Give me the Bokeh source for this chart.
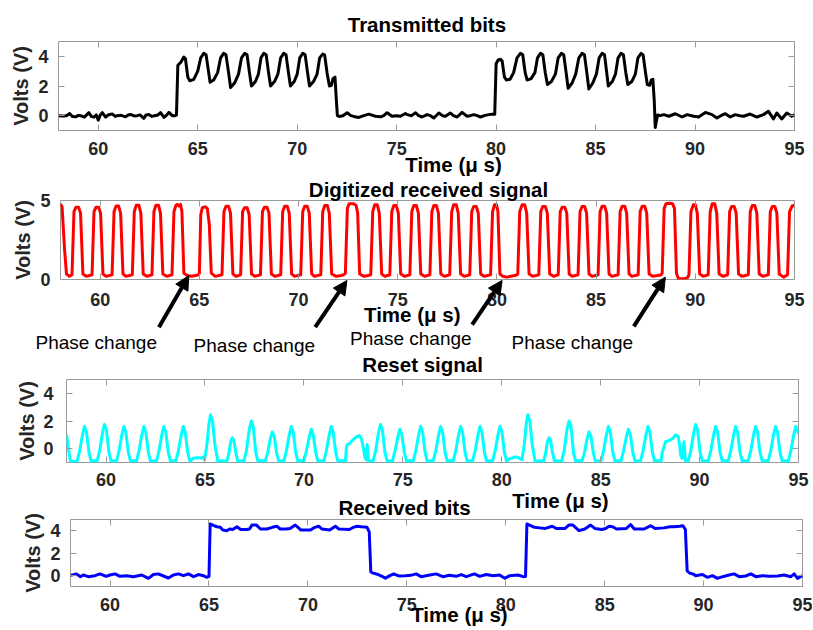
from bokeh.plotting import figure
from bokeh.models import Range1d, LinearAxis, FixedTicker, Label, Arrow, NormalHead, GridBox
from bokeh.embed import file_html
from bokeh.resources import INLINE

FONT = "Liberation Sans"
AXC = "#9a9a9a"
TICKC = "#262626"

x_ticks = [60, 65, 70, 75, 80, 85, 90, 95]

# ---------------- Panel 1: Transmitted bits ----------------
tx_low1_t = [58.0, 58.2, 58.4, 58.56, 58.7, 58.86, 59.0, 59.11, 59.3, 59.53, 59.65, 59.78, 59.9, 60.0, 60.1, 60.2, 60.37, 60.5, 60.7, 60.85,
             60.95, 61.15, 61.37, 61.5, 61.62, 61.8, 61.96, 62.1, 62.29, 62.4, 62.54, 62.7, 62.83, 63.0, 63.13, 63.3, 63.45, 63.55, 63.72, 63.88]
tx_low1_v = [0.0, -0.02, 0.0, 0.15, -0.05, -0.08, 0.02, 0.0, -0.1, 0.2, -0.05, -0.1, 0.05, -0.3, 0.05, 0.2, -0.1, 0.05, 0.12, -0.05,
             0.0, 0.02, -0.08, 0.05, 0.08, -0.02, 0.0, 0.05, -0.18, 0.05, 0.08, -0.05, 0.0, 0.05, 0.2, -0.12, 0.05, 0.22, 0.0, 0.0]
tx_high1_t = [63.93, 64.0, 64.15, 64.3, 64.38, 64.5, 64.6, 64.8, 65.0, 65.15, 65.3, 65.42, 65.55, 65.62, 65.8, 66.0, 66.15, 66.3, 66.42, 66.55,
              66.65, 66.85, 67.05, 67.2, 67.36, 67.48, 67.6, 67.7, 67.9, 68.05, 68.18, 68.32, 68.44, 68.56, 68.66, 68.86, 69.03, 69.17, 69.32, 69.44,
              69.56, 69.66, 69.85, 70.0, 70.13, 70.28, 70.4, 70.52, 70.62, 70.82, 71.0, 71.13, 71.28, 71.38, 71.5, 71.62, 71.72, 71.8, 71.9, 71.97,
              72.02, 72.1]
tx_high1_v = [0.05, 3.4, 3.6, 3.95, 3.85, 2.6, 2.35, 2.45, 3.0, 3.9, 4.2, 4.1, 2.9, 2.25, 2.4, 2.9, 3.9, 4.2, 4.1, 2.9,
              1.9, 2.2, 2.8, 3.9, 4.2, 4.1, 2.9, 2.0, 2.3, 2.8, 3.9, 4.2, 4.1, 2.9, 2.0, 2.3, 2.8, 3.9, 4.2, 4.1,
              2.9, 2.0, 2.3, 2.8, 3.9, 4.2, 4.1, 2.9, 2.0, 2.3, 2.8, 3.9, 4.15, 4.1, 2.9, 2.0, 2.05, 2.5, 2.6, 1.0,
              0.0, -0.05]
tx_low2_t = [72.3, 72.51, 72.7, 72.84, 73.1, 73.35, 73.6, 73.93, 74.19, 74.35, 74.52, 74.77, 75.0, 75.19, 75.44, 75.53, 75.75, 75.95, 76.1, 76.28,
             76.53, 76.7, 76.87, 77.12, 77.3, 77.45, 77.7, 77.85, 78.04, 78.29, 78.54, 78.7, 78.88, 79.05, 79.21, 79.45, 79.63, 79.88]
tx_low2_v = [0.0, 0.2, 0.0, -0.05, -0.12, 0.0, 0.1, -0.04, -0.08, 0.0, 0.2, -0.04, 0.0, -0.04, 0.15, 0.07, 0.0, 0.2, 0.0, -0.09,
             0.07, 0.0, -0.16, 0.18, 0.0, -0.04, 0.18, 0.0, -0.09, 0.22, -0.04, 0.0, 0.07, 0.0, -0.09, 0.02, 0.07, 0.11]
tx_high2_t = [79.93, 80.0, 80.1, 80.22, 80.3, 80.42, 80.52, 80.7, 80.88, 81.05, 81.22, 81.34, 81.46, 81.56, 81.76, 81.95, 82.08, 82.23, 82.35, 82.47,
              82.58, 82.78, 82.98, 83.12, 83.28, 83.4, 83.52, 83.62, 83.82, 84.0, 84.16, 84.32, 84.44, 84.56, 84.66, 84.86, 85.04, 85.18, 85.33, 85.45,
              85.56, 85.64, 85.84, 86.0, 86.13, 86.28, 86.4, 86.52, 86.62, 86.82, 87.0, 87.13, 87.29, 87.39, 87.5, 87.6, 87.72, 87.8, 87.88, 87.95,
              88.0, 88.05, 88.12]
tx_high2_v = [0.1, 3.5, 3.75, 3.8, 3.7, 2.6, 2.4, 2.45, 2.9, 3.9, 4.2, 4.1, 2.9, 2.4, 2.5, 2.9, 3.9, 4.2, 4.1, 2.9,
              2.1, 2.3, 2.8, 3.9, 4.2, 4.1, 2.9, 1.85, 2.2, 2.8, 3.9, 4.2, 4.1, 2.9, 1.8, 2.2, 2.8, 3.9, 4.2, 4.1,
              2.9, 2.0, 2.3, 2.8, 3.9, 4.2, 4.1, 2.9, 2.1, 2.3, 2.8, 3.9, 4.2, 4.1, 3.0, 2.1, 2.05, 2.4, 2.45, 1.0,
              -0.8, -0.4, 0.05]
tx_low3_t = [88.25, 88.43, 88.68, 89.01, 89.35, 89.6, 89.93, 90.18, 90.52, 90.85, 91.1, 91.3, 91.52, 91.77, 92.02, 92.25, 92.44, 92.77, 93.11, 93.44,
             93.69, 93.94, 94.11, 94.36, 94.61, 94.86, 95.0]
tx_low3_v = [0.0, 0.07, -0.04, 0.13, -0.09, 0.07, -0.04, -0.09, 0.22, 0.07, -0.16, 0.0, 0.13, -0.09, 0.07, 0.0, -0.04, 0.11, -0.09, 0.07,
             0.29, -0.22, 0.18, -0.22, 0.18, -0.04, 0.05]

# ---------------- Panel 2: Digitized received signal ----------------
dig_t = [
    [58.0, 58.08, 58.2, 58.3, 58.45],
    [58.58, 58.68, 58.78, 58.91, 59.01, 59.13, 59.3],
    [59.59, 59.69, 59.79, 59.92, 60.02, 60.14, 60.3],
    [60.6, 60.7, 60.8, 60.93, 61.03, 61.15, 61.3],
    [61.62, 61.72, 61.82, 61.95, 62.05, 62.17, 62.35],
    [62.61, 62.71, 62.81, 62.94, 63.04, 63.16, 63.35],
    [63.62, 63.72, 63.82, 63.9, 63.97, 64.05, 64.12, 64.22],
    [64.4, 64.6, 64.8, 64.95],
    [65.0, 65.07, 65.15, 65.3, 65.4, 65.5, 65.6, 65.8],
    [66.14, 66.24, 66.34, 66.47, 66.57, 66.69, 66.85],
    [67.08, 67.18, 67.28, 67.41, 67.51, 67.63, 67.8],
    [68.08, 68.18, 68.28, 68.41, 68.51, 68.63, 68.8],
    [69.1, 69.2, 69.3, 69.43, 69.53, 69.65, 69.8],
    [70.11, 70.21, 70.31, 70.44, 70.54, 70.66, 70.8],
    [71.12, 71.22, 71.32, 71.45, 71.55, 71.67, 71.9, 72.15, 72.28],
    [72.36, 72.46, 72.55, 72.75, 72.9, 72.98, 73.08, 73.3, 73.5],
    [73.64, 73.74, 73.84, 73.97, 74.07, 74.19, 74.35],
    [74.6, 74.7, 74.8, 74.93, 75.03, 75.15, 75.35],
    [75.61, 75.71, 75.81, 75.94, 76.04, 76.16, 76.35],
    [76.62, 76.72, 76.82, 76.95, 77.05, 77.17, 77.35],
    [77.62, 77.72, 77.82, 77.95, 78.05, 78.17, 78.35],
    [78.63, 78.73, 78.83, 78.96, 79.06, 79.18, 79.35],
    [79.68, 79.78, 79.88, 79.98, 80.05, 80.15],
    [80.3, 80.5, 80.7, 80.9, 81.0],
    [81.05, 81.15, 81.27, 81.4, 81.5, 81.62, 81.8],
    [82.11, 82.21, 82.31, 82.44, 82.54, 82.66, 82.85],
    [83.09, 83.19, 83.29, 83.42, 83.52, 83.64, 83.8],
    [84.09, 84.19, 84.29, 84.42, 84.52, 84.64, 84.8],
    [85.1, 85.2, 85.3, 85.43, 85.53, 85.65, 85.8],
    [86.11, 86.21, 86.31, 86.44, 86.54, 86.66, 86.8],
    [87.12, 87.22, 87.32, 87.45, 87.55, 87.67, 87.85, 88.1, 88.28],
    [88.33, 88.43, 88.52, 88.7, 88.85, 88.95, 89.05, 89.15, 89.4, 89.6],
    [89.68, 89.78, 89.9, 90.0, 90.1, 90.22, 90.4],
    [90.65, 90.75, 90.85, 90.98, 91.08, 91.2, 91.4],
    [91.63, 91.73, 91.83, 91.96, 92.06, 92.18, 92.35],
    [92.67, 92.77, 92.87, 93.0, 93.1, 93.22, 93.4],
    [93.68, 93.78, 93.88, 94.01, 94.11, 94.23, 94.45],
    [94.65, 94.75, 94.88, 95.0],
]
dig_v = [
    [4.78, 4.6, 2.0, 0.35, 0.2],
    [0.3, 4.3, 4.58, 4.58, 4.2, 0.35, 0.2],
    [0.3, 4.3, 4.58, 4.58, 4.2, 0.35, 0.2],
    [0.3, 4.3, 4.65, 4.65, 4.2, 0.35, 0.2],
    [0.3, 4.3, 4.7, 4.7, 4.2, 0.35, 0.2],
    [0.3, 4.3, 4.7, 4.7, 4.2, 0.35, 0.2],
    [0.3, 4.3, 4.7, 4.75, 4.65, 4.75, 4.3, 0.4],
    [0.25, 0.2, 0.25, 0.3],
    [0.4, 4.1, 4.55, 4.6, 4.5, 3.5, 0.4, 0.2],
    [0.3, 4.3, 4.64, 4.64, 4.2, 0.35, 0.2],
    [0.3, 4.3, 4.54, 4.54, 4.1, 0.35, 0.2],
    [0.3, 4.3, 4.58, 4.58, 4.2, 0.35, 0.2],
    [0.3, 4.3, 4.64, 4.64, 4.2, 0.35, 0.2],
    [0.3, 4.3, 4.64, 4.64, 4.2, 0.35, 0.2],
    [0.3, 4.3, 4.68, 4.68, 4.2, 0.35, 0.2, 0.25, 0.3],
    [0.4, 4.5, 4.8, 4.8, 4.7, 4.2, 0.35, 0.2, 0.25],
    [0.3, 4.3, 4.73, 4.73, 4.2, 0.35, 0.2],
    [0.3, 4.3, 4.68, 4.68, 4.2, 0.35, 0.2],
    [0.3, 4.3, 4.68, 4.68, 4.2, 0.35, 0.2],
    [0.3, 4.3, 4.68, 4.68, 4.2, 0.35, 0.2],
    [0.3, 4.3, 4.73, 4.73, 4.2, 0.35, 0.2],
    [0.3, 4.3, 4.62, 4.62, 4.2, 0.35, 0.2],
    [0.3, 4.3, 4.73, 4.73, 4.3, 0.35],
    [0.2, 0.15, 0.2, 0.25, 0.3],
    [0.35, 4.3, 4.73, 4.73, 4.2, 0.35, 0.2],
    [0.3, 4.3, 4.62, 4.62, 4.2, 0.35, 0.2],
    [0.3, 4.3, 4.58, 4.58, 4.2, 0.35, 0.2],
    [0.3, 4.3, 4.62, 4.62, 4.2, 0.35, 0.2],
    [0.3, 4.3, 4.64, 4.64, 4.2, 0.35, 0.2],
    [0.3, 4.3, 4.64, 4.64, 4.2, 0.35, 0.2],
    [0.3, 4.3, 4.64, 4.64, 4.2, 0.35, 0.2, 0.25, 0.3],
    [0.4, 4.5, 4.8, 4.82, 4.8, 4.5, 0.4, 0.05, 0.05, 0.1],
    [0.3, 4.3, 4.73, 4.73, 4.2, 0.35, 0.2],
    [0.3, 4.3, 4.79, 4.79, 4.2, 0.35, 0.2],
    [0.3, 4.3, 4.62, 4.62, 4.2, 0.35, 0.2],
    [0.3, 4.3, 4.68, 4.68, 4.2, 0.35, 0.2],
    [0.3, 4.3, 4.62, 4.62, 4.2, 0.35, 0.15],
    [0.3, 4.3, 4.65, 4.7],
]

# phase-change annotations, in the data units of panel 2 (time, volts)
phase_text_x = [59.80, 67.77, 75.66, 83.80]
phase_text_y = [-3.99, -4.18, -3.73, -3.96]
arrow_x0 = [62.96, 70.84, 78.75, 86.90]
arrow_y0 = [-3.02, -3.02, -2.85, -2.97]
arrow_x1 = [64.47, 72.44, 80.26, 88.49]
arrow_y1 = [0.25, -0.06, -0.06, 0.15]

# ---------------- Panel 3: Reset signal ----------------
rst_t = [
    [58.0, 58.1, 58.2, 58.35],
    [58.53, 58.66, 58.81, 58.91, 59.01, 59.14, 59.25, 59.4],
    [59.54, 59.67, 59.82, 59.92, 60.02, 60.15, 60.26, 60.4],
    [60.52, 60.65, 60.8, 60.9, 61.0, 61.13, 61.24, 61.4],
    [61.53, 61.66, 61.81, 61.91, 62.01, 62.14, 62.25, 62.4],
    [62.54, 62.67, 62.82, 62.92, 63.02, 63.15, 63.26, 63.4],
    [63.52, 63.65, 63.8, 63.9, 64.0, 64.13, 64.24],
    [64.4, 64.5, 64.65, 64.8, 64.9],
    [64.98, 65.1, 65.2, 65.28, 65.38, 65.5, 65.65, 65.85],
    [66.1, 66.2, 66.3, 66.38, 66.46, 66.56, 66.66, 66.85],
    [66.96, 67.09, 67.24, 67.34, 67.44, 67.57, 67.68, 67.85],
    [68.04, 68.17, 68.3, 68.4, 68.5, 68.62, 68.73, 68.9],
    [68.98, 69.11, 69.26, 69.36, 69.46, 69.59, 69.7, 69.85],
    [69.99, 70.12, 70.27, 70.37, 70.47, 70.6, 70.71, 70.85],
    [71.0, 71.13, 71.28, 71.38, 71.48, 71.61, 71.72, 71.9],
    [72.1, 72.15, 72.2, 72.3, 72.45, 72.65, 72.8, 72.9, 73.0, 73.08, 73.14, 73.2, 73.26, 73.4],
    [73.49, 73.62, 73.77, 73.87, 73.97, 74.1, 74.21, 74.35],
    [74.47, 74.6, 74.75, 74.85, 74.95, 75.08, 75.19, 75.35],
    [75.52, 75.65, 75.8, 75.9, 76.0, 76.13, 76.24, 76.4],
    [76.53, 76.66, 76.81, 76.91, 77.01, 77.14, 77.25, 77.4],
    [77.54, 77.67, 77.82, 77.92, 78.02, 78.15, 78.26, 78.4],
    [78.52, 78.65, 78.8, 78.9, 79.0, 79.13, 79.24, 79.4],
    [79.53, 79.66, 79.81, 79.91, 80.01, 80.14, 80.25],
    [80.4, 80.5, 80.65, 80.8, 80.95],
    [81.02, 81.14, 81.24, 81.32, 81.42, 81.54, 81.69, 81.9],
    [82.11, 82.21, 82.31, 82.39, 82.47, 82.57, 82.67, 82.85],
    [83.02, 83.15, 83.3, 83.4, 83.5, 83.63, 83.74, 83.9],
    [84.05, 84.18, 84.31, 84.41, 84.51, 84.63, 84.74, 84.9],
    [85.01, 85.14, 85.29, 85.39, 85.49, 85.62, 85.73, 85.9],
    [86.02, 86.15, 86.3, 86.4, 86.5, 86.63, 86.74, 86.9],
    [87.01, 87.14, 87.29, 87.39, 87.49, 87.62, 87.73, 87.9],
    [88.05, 88.12, 88.2, 88.28, 88.4, 88.54, 88.68, 88.79, 88.92, 89.0, 89.04, 89.12, 89.21, 89.29, 89.4],
    [89.42, 89.55, 89.7, 89.8, 89.9, 90.03, 90.14, 90.3],
    [90.43, 90.56, 90.71, 90.81, 90.91, 91.04, 91.15, 91.3],
    [91.44, 91.57, 91.72, 91.82, 91.92, 92.05, 92.16, 92.3],
    [92.45, 92.58, 92.73, 92.83, 92.93, 93.06, 93.17, 93.3],
    [93.46, 93.59, 93.74, 93.84, 93.94, 94.07, 94.18, 94.3],
    [94.48, 94.61, 94.76, 94.86, 95.0],
]
rst_v = [
    [1.0, 0.0, -0.9, -0.92],
    [-0.92, -0.2, 1.0, 1.6, 1.2, -0.3, -0.92, -0.86],
    [-0.92, -0.2, 1.15, 1.75, 1.35, -0.3, -0.92, -0.88],
    [-0.92, -0.2, 1.0, 1.6, 1.2, -0.3, -0.92, -0.86],
    [-0.92, -0.2, 1.0, 1.6, 1.2, -0.3, -0.92, -0.88],
    [-0.92, -0.2, 1.0, 1.6, 1.2, -0.3, -0.92, -0.86],
    [-0.92, -0.2, 1.0, 1.6, 1.2, -0.3, -0.92],
    [-0.7, -0.68, -0.65, -0.7, -0.6],
    [-0.8, 0.3, 1.8, 2.45, 2.0, 0.3, -0.92, -0.88],
    [-0.92, -0.4, 0.5, 0.78, 0.6, -0.3, -0.92, -0.88],
    [-0.92, -0.2, 1.4, 2.0, 1.6, -0.3, -0.92, -0.86],
    [-0.92, -0.3, 0.7, 1.2, 0.9, -0.3, -0.92, -0.88],
    [-0.92, -0.2, 1.0, 1.6, 1.2, -0.3, -0.92, -0.86],
    [-0.92, -0.2, 0.85, 1.4, 1.0, -0.3, -0.92, -0.88],
    [-0.92, -0.2, 1.0, 1.6, 1.2, -0.3, -0.92, -0.86],
    [-0.9, 0.1, 0.3, 0.35, 0.6, 0.85, 0.95, 0.75, 0.1, -0.6, -0.8, 0.3, -0.9, -0.9],
    [-0.92, -0.2, 1.15, 1.75, 1.35, -0.3, -0.92, -0.88],
    [-0.92, -0.2, 0.85, 1.4, 1.0, -0.3, -0.92, -0.86],
    [-0.92, -0.2, 1.0, 1.6, 1.2, -0.3, -0.92, -0.88],
    [-0.92, -0.2, 1.0, 1.6, 1.2, -0.3, -0.92, -0.86],
    [-0.92, -0.2, 1.0, 1.6, 1.2, -0.3, -0.92, -0.88],
    [-0.92, -0.2, 1.0, 1.6, 1.2, -0.3, -0.92, -0.86],
    [-0.92, -0.2, 1.0, 1.6, 1.2, -0.3, -0.92],
    [-0.72, -0.7, -0.6, -0.62, -0.75],
    [-0.8, 0.3, 1.8, 2.45, 2.0, 0.3, -0.92, -0.88],
    [-0.92, -0.4, 0.5, 0.78, 0.6, -0.3, -0.92, -0.88],
    [-0.92, -0.2, 1.4, 2.0, 1.6, -0.3, -0.92, -0.86],
    [-0.92, -0.3, 0.7, 1.2, 0.9, -0.3, -0.92, -0.88],
    [-0.92, -0.2, 1.0, 1.6, 1.2, -0.3, -0.92, -0.86],
    [-0.92, -0.2, 0.85, 1.4, 1.0, -0.3, -0.92, -0.88],
    [-0.92, -0.2, 1.0, 1.6, 1.2, -0.3, -0.92, -0.86],
    [-0.92, -0.2, 0.1, 0.5, 0.55, 0.65, 0.8, 1.0, 0.9, 0.2, -0.45, -0.7, 0.5, -0.92, -0.9],
    [-0.92, -0.2, 1.15, 1.75, 1.35, -0.3, -0.92, -0.88],
    [-0.92, -0.2, 1.0, 1.6, 1.2, -0.3, -0.92, -0.86],
    [-0.92, -0.2, 1.0, 1.6, 1.2, -0.3, -0.92, -0.88],
    [-0.92, -0.2, 1.0, 1.6, 1.2, -0.3, -0.92, -0.86],
    [-0.92, -0.2, 1.0, 1.6, 1.2, -0.3, -0.92, -0.88],
    [-0.92, -0.2, 1.0, 1.6, 1.1],
]

# ---------------- Panel 4: Received bits ----------------
rx_low1_t = [58.0, 58.3, 58.5, 58.65, 58.9, 59.24, 59.49, 59.8, 60.0, 60.25, 60.5, 60.84, 61.18, 61.6, 61.94, 62.19, 62.44, 62.7, 62.95, 63.2,
             63.46, 63.71, 63.96, 64.22, 64.47, 64.72, 64.89, 65.0]
rx_low1_v = [0.0, 0.13, -0.12, 0.03, -0.12, -0.03, 0.13, -0.09, 0.03, 0.13, -0.09, -0.03, -0.12, 0.03, -0.27, 0.07, 0.13, -0.06, -0.24, 0.03,
             0.13, -0.03, 0.13, -0.12, 0.07, -0.03, -0.18, -0.1]
rx_high1_t = [65.06, 65.25, 65.4, 65.57, 65.7, 65.9, 66.05, 66.2, 66.41, 66.6, 66.9, 67.05, 67.17, 67.4, 67.6, 67.93, 68.2, 68.43, 68.6, 68.9,
              69.1, 69.36, 69.5, 69.65, 70.12, 70.35, 70.54, 70.7, 71.1, 71.39, 71.55, 72.1, 72.3, 72.48, 72.7, 72.99, 73.1, 73.18, 73.3]
rx_high1_v = [4.6, 4.45, 4.35, 4.3, 4.05, 4.0, 4.15, 4.1, 4.35, 4.1, 4.1, 4.15, 4.5, 4.5, 4.15, 4.15, 4.3, 4.4, 4.15, 4.15,
              4.2, 4.5, 4.3, 4.05, 4.05, 4.3, 4.4, 4.15, 4.05, 4.4, 4.15, 4.1, 4.3, 4.4, 4.35, 4.3, 3.9, 0.3, 0.2]
rx_low2_t = [73.5, 73.75, 73.92, 74.17, 74.34, 74.59, 74.93, 75.2, 75.47, 75.72, 76.1, 76.48, 76.82, 77.15, 77.49, 77.75, 78.0, 78.42, 78.68, 79.02,
             79.36, 79.69, 79.95, 80.2, 80.62, 80.88, 81.0]
rx_low2_v = [0.1, -0.1, -0.25, 0.0, 0.12, -0.05, -0.03, 0.0, 0.13, -0.12, 0.0, 0.13, -0.12, 0.0, -0.09, 0.07, -0.12, 0.13, -0.09, 0.07,
             -0.03, 0.03, -0.27, -0.03, 0.03, -0.12, -0.1]
rx_high2_t = [81.07, 81.2, 81.45, 81.7, 82.0, 82.35, 82.55, 83.0, 83.19, 83.4, 83.7, 84.0, 84.29, 84.5, 84.85, 85.05, 85.22, 85.4, 85.6, 86.1,
              86.31, 86.5, 87.0, 87.33, 87.55, 88.0, 88.3, 88.51, 88.8, 88.95, 89.08, 89.17, 89.3]
rx_high2_v = [4.6, 4.5, 4.3, 4.25, 4.2, 4.4, 4.2, 4.2, 4.5, 4.5, 4.0, 4.15, 4.5, 4.2, 4.1, 4.2, 4.4, 4.35, 4.15, 4.2,
              4.55, 4.15, 4.15, 4.45, 4.2, 4.25, 4.35, 4.35, 4.4, 4.45, 4.1, 0.4, 0.2]
rx_low3_t = [89.5, 89.6, 89.94, 90.2, 90.45, 90.7, 90.96, 91.29, 91.54, 91.8, 92.13, 92.39, 92.64, 92.98, 93.31, 93.74, 94.07, 94.41, 94.58, 94.75, 95.0]
rx_low3_v = [0.1, -0.03, 0.07, -0.18, -0.03, -0.27, -0.12, 0.03, 0.13, -0.12, -0.06, 0.13, -0.12, -0.03, -0.09, -0.06, 0.03, -0.12, 0.13, -0.27, -0.03]


def flat(parts):
    out = []
    for part in parts:
        out.extend(part)
    return out


# ---------------- layout geometry (pixels) ----------------
W = 812
H1, H2, H3, H4 = 172, 181, 152, 123
TOTAL_H = H1 + H2 + H3 + H4
P2_LEFT, P2_RIGHT, P2_TOP, P2_BOTTOM = 60, 18, 28, 74


def style_axis(ax, ticks, labels, standoff):
    ax.ticker = FixedTicker(ticks=ticks)
    ax.axis_line_color = None
    ax.major_tick_line_color = AXC
    ax.major_tick_in = 6
    ax.major_tick_out = 0
    ax.minor_tick_line_color = None
    ax.major_label_text_font = FONT
    ax.major_label_text_font_style = "bold"
    if labels:
        ax.major_label_text_color = TICKC
        ax.major_label_text_font_size = "18px"
        ax.major_label_standoff = standoff
    else:
        ax.major_label_text_color = None
        ax.major_label_text_font_size = "1px"
        ax.major_label_standoff = 0


def panel(height, top, bottom, left, right, yr, yticks, ystand, ylab_stand, xstand):
    p = figure(width=W, height=height, x_range=Range1d(58, 95), y_range=Range1d(*yr),
               output_backend="svg", toolbar_location=None, frame_align=False,
               min_border_top=top, min_border_bottom=bottom,
               min_border_left=left, min_border_right=right)
    p.grid.visible = False
    p.outline_line_color = AXC
    p.outline_line_width = 1
    p.background_fill_color = "white"
    p.border_fill_color = "white"
    style_axis(p.xaxis[0], x_ticks, True, xstand)
    style_axis(p.yaxis[0], yticks, True, ystand)
    p.yaxis[0].axis_label = "Volts (V)"
    p.yaxis[0].axis_label_text_font = FONT
    p.yaxis[0].axis_label_text_font_style = "bold"
    p.yaxis[0].axis_label_text_font_size = "20px"
    p.yaxis[0].axis_label_text_color = TICKC
    p.yaxis[0].axis_label_standoff = ylab_stand
    ax_top = LinearAxis()
    style_axis(ax_top, x_ticks, False, 0)
    p.add_layout(ax_top, "above")
    ax_right = LinearAxis()
    style_axis(ax_right, yticks, False, 0)
    p.add_layout(ax_right, "right")
    return p


# Panel 1
p1 = panel(H1, 41, 42, 58, 18, (-1, 5), [0, 2, 4], 10, 3, 11)
p1.line(flat([tx_low1_t, tx_high1_t, tx_low2_t, tx_high2_t, tx_low3_t]),
        flat([tx_low1_v, tx_high1_v, tx_low2_v, tx_high2_v, tx_low3_v]),
        line_color="black", line_width=3, line_join="round")

# Panel 2
p2 = panel(H2, P2_TOP, P2_BOTTOM, P2_LEFT, P2_RIGHT, (0, 5), [0, 5], 10, 3, 13)
p2.line(flat(dig_t), flat(dig_v), line_color="#ff0000", line_width=3, line_join="round")

# Panel 3
p3 = panel(H3, 26, 43, 66, 14, (-1, 5), [0, 2, 4], 13, 2, 10)
p3.line(flat(rst_t), flat(rst_v), line_color="#00ffff", line_width=3, line_join="round")

# Panel 4
p4 = panel(H4, 14, 42, 70, 10, (-1, 5), [0, 2, 4], 10, 3, 11)
p4.line(flat([rx_low1_t, rx_high1_t, rx_low2_t, rx_high2_t, rx_low3_t]),
        flat([rx_low1_v, rx_high1_v, rx_low2_v, rx_high2_v, rx_low3_v]),
        line_color="#0000ff", line_width=3, line_join="round")

# ---------------- transparent overlay for titles, labels and arrows ----------------
# it shares panel 2's time / volt scale, extended over the whole page
ux = (95 - 58) / (W - P2_LEFT - P2_RIGHT)
uy = 5 / (H2 - P2_TOP - P2_BOTTOM)
f2_top = H1 + P2_TOP
f2_bot = H1 + H2 - P2_BOTTOM
ov = figure(width=W, height=TOTAL_H,
            x_range=Range1d(58 - P2_LEFT * ux, 95 + P2_RIGHT * ux),
            y_range=Range1d(0 - (TOTAL_H - f2_bot) * uy, 5 + f2_top * uy),
            x_axis_type=None, y_axis_type=None, output_backend="svg", toolbar_location=None,
            frame_align=False,
            min_border_top=0, min_border_bottom=0, min_border_left=0, min_border_right=0)
ov.grid.visible = False
ov.outline_line_color = None
ov.background_fill_color = None
ov.border_fill_color = None


def add_text(x, y, txt, bold=True, size="20.5px"):
    ov.add_layout(Label(x=x, y=y, text=txt, text_font=FONT, text_font_size=size,
                        text_font_style="bold" if bold else "normal", text_color="black",
                        text_align="center", text_baseline="middle"))


add_text(76.47, 16.11, "Transmitted bits")
add_text(77.81, 7.28, "Time (\u03bc s)")
add_text(76.55, 5.70, "Digitized received signal")
add_text(75.73, -2.22, "Time (\u03bc s)")
add_text(76.25, -5.35, "Reset signal")
add_text(83.20, -13.99, "Time (\u03bc s)")
add_text(75.34, -14.40, "Received bits")
add_text(78.11, -21.20, "Time (\u03bc s)")

for i in range(len(phase_text_x)):
    add_text(phase_text_x[i], phase_text_y[i], "Phase change", bold=False, size="19px")
    ov.add_layout(Arrow(end=NormalHead(size=14, line_color="black", fill_color="black"),
                        x_start=arrow_x0[i], y_start=arrow_y0[i], x_end=arrow_x1[i], y_end=arrow_y1[i],
                        line_color="black", line_width=4))

layout = GridBox(children=[(p1, 0, 0), (p2, 1, 0), (p3, 2, 0), (p4, 3, 0), (ov, 0, 0, 4, 1)], spacing=0)
open("out.html", "w").write(file_html(layout, INLINE))
